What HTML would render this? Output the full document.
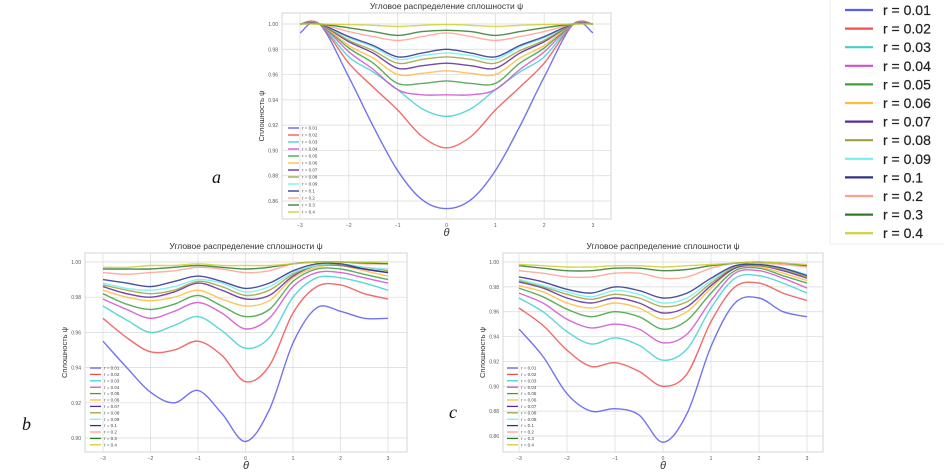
<!DOCTYPE html>
<html><head><meta charset="utf-8">
<style>
html,body{margin:0;padding:0;background:#fff;}
svg{display:block;font-family:"Liberation Sans","DejaVu Sans",sans-serif;}
.lbl{font-family:"Liberation Serif",serif;font-style:italic;font-size:18px;fill:#111;}
</style></head>
<body>
<svg id="fig" width="944" height="472" viewBox="0 0 944 472" xmlns="http://www.w3.org/2000/svg">
<text class="lbl" x="212" y="183">a</text>
<text class="lbl" x="22" y="430">b</text>
<text class="lbl" x="449" y="418">c</text>
</svg>
<script>
const seriesNames = ["r = 0.01","r = 0.02","r = 0.03","r = 0.04","r = 0.05","r = 0.06","r = 0.07","r = 0.08","r = 0.09","r = 0.1","r = 0.2","r = 0.3","r = 0.4"];
const seriesColors = ["#5b5bf0","#f05050","#40d0d0","#d050d0","#40a040","#ffbb40","#5a2a9a","#a0a040","#70f0f0","#303090","#ffa090","#307a30","#d0d030"];
const xTicks = [-3,-2,-1,0,1,2,3];
const xsA = [-3,-2.6,-2,-1.5,-1,-0.5,0,0.5,1,1.5,2,2.6,3];
const xsB = [-3,-2.5,-2,-1.5,-1,-0.5,0,0.5,1,1.5,2,2.5,3];
const yTicksA = [1.00,0.98,0.96,0.94,0.92,0.90,0.88,0.86];
const yTicksB = [1.00,0.98,0.96,0.94,0.92,0.90];
const yTicksC = [1.00,0.98,0.96,0.94,0.92,0.90,0.88,0.86];
const valsA = [
[0.993,1.0,0.958,0.919,0.884,0.861,0.854,0.861,0.884,0.919,0.958,1.0,0.993],
[1.0,1.0,0.969,0.950,0.932,0.911,0.902,0.911,0.932,0.950,0.969,1.0,1.0],
[1.0,1.0,0.974,0.962,0.948,0.933,0.927,0.933,0.948,0.962,0.974,1.0,1.0],
[1.0,1.0,0.978,0.964,0.948,0.944,0.944,0.944,0.948,0.964,0.978,1.0,1.0],
[1.0,1.0,0.981,0.969,0.953,0.953,0.955,0.953,0.953,0.969,0.981,1.0,1.0],
[1.0,1.0,0.983,0.973,0.960,0.961,0.963,0.961,0.960,0.973,0.983,1.0,1.0],
[1.0,1.0,0.986,0.977,0.965,0.967,0.969,0.967,0.965,0.977,0.986,1.0,1.0],
[1.0,1.0,0.987,0.979,0.969,0.972,0.974,0.972,0.969,0.979,0.987,1.0,1.0],
[1.0,1.0,0.989,0.982,0.972,0.975,0.977,0.975,0.972,0.982,0.989,1.0,1.0],
[1.0,1.0,0.990,0.983,0.974,0.977,0.980,0.977,0.974,0.983,0.990,1.0,1.0],
[1.0,1.0,0.994,0.990,0.987,0.990,0.993,0.990,0.987,0.990,0.994,1.0,1.0],
[1.0,1.0,0.997,0.994,0.991,0.994,0.995,0.994,0.991,0.994,0.997,1.0,1.0],
[1.0,1.0,0.9995,0.999,0.998,0.999,0.9995,0.999,0.998,0.999,0.9995,1.0,1.0]];
const valsB = [
[0.955,0.940,0.926,0.920,0.927,0.914,0.898,0.916,0.954,0.974,0.972,0.968,0.968],
[0.968,0.957,0.949,0.950,0.955,0.947,0.932,0.941,0.971,0.986,0.987,0.982,0.979],
[0.975,0.967,0.960,0.964,0.969,0.961,0.951,0.957,0.980,0.991,0.991,0.988,0.984],
[0.979,0.973,0.968,0.972,0.977,0.971,0.962,0.968,0.986,0.994,0.994,0.991,0.988],
[0.982,0.976,0.973,0.976,0.981,0.975,0.969,0.973,0.989,0.996,0.996,0.993,0.990],
[0.984,0.980,0.978,0.980,0.984,0.979,0.975,0.978,0.991,0.997,0.998,0.995,0.992],
[0.986,0.982,0.980,0.983,0.988,0.984,0.979,0.981,0.992,0.998,0.998,0.996,0.994],
[0.987,0.984,0.982,0.984,0.989,0.986,0.981,0.984,0.993,0.998,0.998,0.997,0.995],
[0.988,0.985,0.984,0.986,0.990,0.988,0.983,0.986,0.994,0.998,0.999,0.997,0.996],
[0.990,0.988,0.986,0.989,0.992,0.989,0.985,0.988,0.995,0.999,0.999,0.996,0.994],
[0.994,0.993,0.994,0.995,0.997,0.996,0.994,0.995,0.999,1.0,1.0,0.999,0.999],
[0.996,0.996,0.996,0.997,0.998,0.997,0.996,0.997,0.999,1.0,1.0,0.9995,0.999],
[0.997,0.997,0.998,0.998,0.999,0.998,0.998,0.998,0.999,1.0,1.0,1.0,1.0]];
const valsC = [
[0.946,0.924,0.894,0.880,0.882,0.877,0.855,0.878,0.932,0.967,0.971,0.960,0.956],
[0.963,0.949,0.929,0.916,0.919,0.912,0.900,0.910,0.952,0.980,0.983,0.975,0.969],
[0.971,0.960,0.944,0.934,0.939,0.933,0.921,0.930,0.963,0.987,0.989,0.983,0.975],
[0.975,0.967,0.954,0.947,0.950,0.946,0.935,0.942,0.969,0.991,0.993,0.987,0.979],
[0.979,0.972,0.962,0.956,0.960,0.956,0.946,0.953,0.975,0.993,0.995,0.989,0.983],
[0.981,0.976,0.967,0.963,0.967,0.963,0.954,0.960,0.979,0.995,0.996,0.991,0.985],
[0.984,0.979,0.971,0.967,0.971,0.967,0.959,0.964,0.981,0.995,0.997,0.993,0.987],
[0.985,0.980,0.974,0.970,0.974,0.971,0.964,0.968,0.983,0.996,0.997,0.994,0.988],
[0.986,0.981,0.976,0.972,0.977,0.974,0.967,0.971,0.985,0.997,0.998,0.995,0.990],
[0.988,0.984,0.978,0.975,0.980,0.977,0.971,0.975,0.987,0.997,0.998,0.995,0.989],
[0.993,0.991,0.988,0.988,0.991,0.991,0.987,0.988,0.995,0.999,0.999,0.998,0.996],
[0.997,0.995,0.993,0.993,0.995,0.995,0.993,0.994,0.997,0.999,1.0,0.999,0.997],
[0.998,0.997,0.996,0.996,0.997,0.997,0.996,0.997,0.998,0.999,1.0,0.999,0.998]];

const NS = "http://www.w3.org/2000/svg";
const svg = document.getElementById("fig");
function mk(tag, attrs, parent){const e=document.createElementNS(NS,tag);for(const k in attrs)e.setAttribute(k,attrs[k]);(parent||svg).appendChild(e);return e;}

function drawPanel(cfg, id){
  const g = mk("g",{});
  
  
  const sx = v => cfg.x0 + (v+3)/6*(cfg.x1-cfg.x0);
  const sy = v => cfg.y0 + (1-v)/(1-cfg.ymin)*(cfg.y1-cfg.y0);
  const bg = mk("rect",{x:cfg.L,y:cfg.T,width:cfg.R-cfg.L,height:cfg.B-cfg.T,fill:"#fff",stroke:"#ccc","stroke-width":0.8},g);
  
  
  xTicks.forEach(t=>{
    const gl = mk("line",{x1:sx(t),x2:sx(t),y1:cfg.T,y2:cfg.B,stroke:"#d8d8d8","stroke-width":0.7},g);
    
    
    const tl = mk("text",{x:sx(t),y:cfg.B+8,"font-size":5,"text-anchor":"middle",fill:"#555"},g);
    tl.textContent = t===0?"0":(t<0?"\u2212"+(-t):""+t);
    
    
  });
  cfg.yTicks.forEach(t=>{
    const gl = mk("line",{x1:cfg.L,x2:cfg.R,y1:sy(t),y2:sy(t),stroke:"#d8d8d8","stroke-width":0.7},g);
    
    
    const tl = mk("text",{x:cfg.L-4,y:sy(t)+2,"font-size":5,"text-anchor":"end",fill:"#555"},g);
    tl.textContent = t.toFixed(2);
    
    
  });
  cfg.vals.forEach((vals,i)=>{
    const pts = vals.map((v,j)=>[sx(cfg.xs[j]),sy(v)]);
    let d = "M"+pts[0][0].toFixed(1)+","+pts[0][1].toFixed(1);
    for(let j=0;j<pts.length-1;j++){
      const p0=pts[Math.max(0,j-1)],p1=pts[j],p2=pts[j+1],p3=pts[Math.min(pts.length-1,j+2)];
      const c1=[p1[0]+(p2[0]-p0[0])/6,p1[1]+(p2[1]-p0[1])/6];
      const c2=[p2[0]-(p3[0]-p1[0])/6,p2[1]-(p3[1]-p1[1])/6];
      d+=" C"+c1[0].toFixed(1)+","+c1[1].toFixed(1)+" "+c2[0].toFixed(1)+","+c2[1].toFixed(1)+" "+p2[0].toFixed(1)+","+p2[1].toFixed(1);
    }
    const p = mk("path",{d:d,fill:"none",stroke:seriesColors[i],"stroke-width":1.4,"stroke-opacity":0.85},g);
    
    
  });
  seriesNames.forEach((n,i)=>{
    const y = cfg.legY + i*cfg.legStep;
    const l = mk("line",{x1:cfg.legX,x2:cfg.legX+11,y1:y,y2:y,stroke:seriesColors[i],"stroke-width":1.3},g);
    
    
    const t = mk("text",{x:cfg.legX+14,y:y+1.6,"font-size":4.5,fill:"#444"},g);
    t.textContent = n;
    
    
  });
  const title = mk("text",{x:(cfg.L+cfg.R)/2,y:cfg.T-4,"font-size":8.5,"text-anchor":"middle",fill:"#333"},g);
  title.textContent = "Угловое распределение сплошности  ψ";
  
  
  const xl = mk("text",{x:(cfg.L+cfg.R)/2,y:cfg.B+17,"font-size":11,"font-style":"italic","text-anchor":"middle",fill:"#333"},g);
  xl.textContent = "θ";
  
  
  const yx = cfg.L-18, yy=(cfg.T+cfg.B)/2;
  const yl = mk("text",{x:yx,y:yy,"font-size":7.5,"text-anchor":"middle",fill:"#333",transform:"rotate(-90 "+yx+" "+yy+")"},g);
  yl.textContent = "Сплошность  ψ";
  
  
}

drawPanel({L:282,R:611,T:13,B:219,x0:300,x1:593,y0:24,y1:201,ymin:0.86,yTicks:yTicksA,xs:xsA,vals:valsA,legX:288,legY:128,legStep:7},"a");
drawPanel({L:85,R:407,T:253,B:452,x0:103,x1:388,y0:262,y1:438,ymin:0.90,yTicks:yTicksB,xs:xsB,vals:valsB,legX:90,legY:368,legStep:6.4},"b");
drawPanel({L:503,R:823,T:253,B:452,x0:519,x1:807,y0:262,y1:436,ymin:0.86,yTicks:yTicksC,xs:xsB,vals:valsC,legX:507,legY:368,legStep:6.4},"c");

const lg = mk("g",{});


const lb = mk("rect",{x:830,y:-2,width:120,height:246,fill:"#fff",stroke:"#eeeeee","stroke-width":1},lg);


seriesNames.forEach((n,i)=>{
  const y = 10 + i*18.6;
  const l = mk("line",{x1:845,x2:873,y1:y,y2:y,stroke:seriesColors[i],"stroke-width":2.2},lg);
  
  
  const t = mk("text",{x:883,y:y+5,"font-size":14,fill:"#222","stroke":"#222","stroke-width":0.2},lg);
  t.textContent = n;
  
  
});
</script>
</body></html>
